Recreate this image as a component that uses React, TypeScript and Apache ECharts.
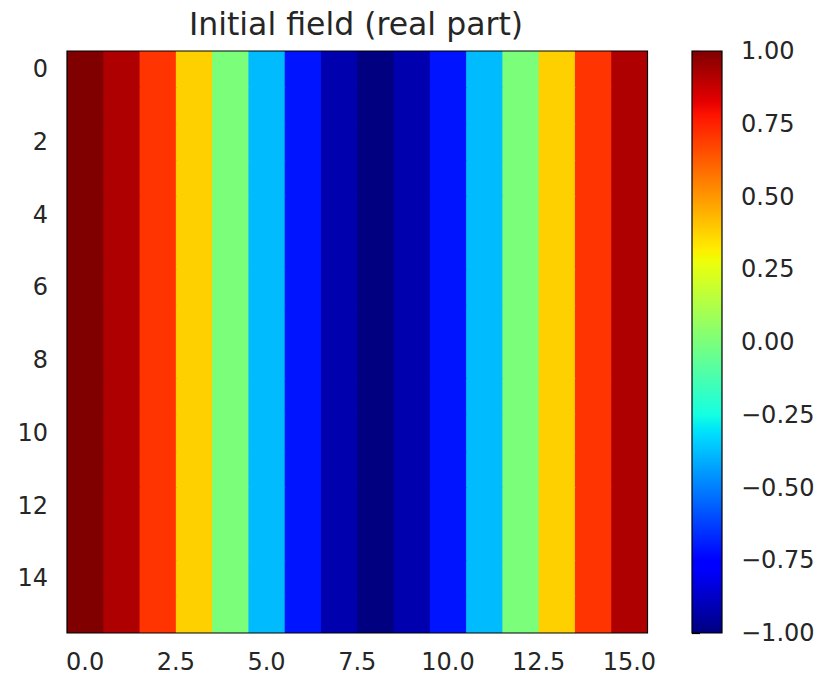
import React, { useEffect, useRef } from "react";
import * as echarts from "echarts";

// Column values of the field (real part), one per x column
const colValues: number[] = [1.0, 0.92, 0.71, 0.38, 0.0, -0.38, -0.71, -0.92, -1.0, -0.92, -0.71, -0.38, 0.0, 0.38, 0.71, 0.92];
// Row indices (every row is identical)
const rowIndices: number[] = [0, 1, 2, 3, 4, 5, 6, 7, 8, 9, 10, 11, 12, 13, 14, 15];
const xTicks: number[] = [0, 2.5, 5, 7.5, 10, 12.5, 15];
const yTicks: number[] = [0, 2, 4, 6, 8, 10, 12, 14];
const cbMin = -1;
const cbMax = 1;
const cbInterval = 0.25;
const titleText = "Initial field (real part)";

// matplotlib "jet" colormap segment data
const jetR: number[][] = [[0, 0], [0.35, 0], [0.66, 1], [0.89, 1], [1, 0.5]];
const jetG: number[][] = [[0, 0], [0.125, 0], [0.375, 1], [0.64, 1], [0.91, 0], [1, 0]];
const jetB: number[][] = [[0, 0.5], [0.11, 1], [0.34, 1], [0.65, 0], [1, 0]];

function seg(pts: number[][], t: number): number {
  for (let i = 1; i < pts.length; i++) {
    if (t <= pts[i][0]) {
      const [x0, y0] = pts[i - 1];
      const [x1, y1] = pts[i];
      return y0 + ((t - x0) / (x1 - x0)) * (y1 - y0);
    }
  }
  return pts[pts.length - 1][1];
}
function jet(t: number): string {
  const c = (v: number) => Math.round(Math.max(0, Math.min(1, v)) * 255).toString(16).padStart(2, "0");
  return "#" + c(seg(jetR, t)) + c(seg(jetG, t)) + c(seg(jetB, t));
}
const jetStops: string[] = [];
for (let i = 0; i <= 128; i++) jetStops.push(jet(i / 128));

const FONT = "DejaVu Sans";
const TXT = "#262626";

export default function App() {
  const ref = useRef<HTMLDivElement>(null);
  useEffect(() => {
    if (!ref.current) return;
    const chart = echarts.init(ref.current, undefined, { renderer: "svg" });
    const cells: number[][] = [];
    rowIndices.forEach((r) => colValues.forEach((v, c) => cells.push([c, r, v])));
    const xMin = -0.5, xMax = colValues.length - 0.5;
    const yMin = -0.5, yMax = rowIndices.length - 0.5;

    const tickLabel = { fontFamily: FONT, fontSize: 24, color: TXT };
    const option: any = {
      animation: false,
      backgroundColor: "#fff",
      title: {
        text: titleText,
        left: 351,
        top: 3,
        textAlign: "center",
        textStyle: { fontFamily: FONT, fontSize: 31.5, fontWeight: "normal", color: TXT },
      },
      grid: [
        { left: 67, top: 51, width: 580.5, height: 582 },
        { left: 692, top: 51, width: 30, height: 582 },
      ],
      xAxis: [
        {
          type: "value", gridIndex: 0, min: xMin, max: xMax,
          splitLine: { show: false },
          axisLine: { show: false },
          axisTick: { show: true, length: 8, lineStyle: { color: "#000", width: 1.2 }, customValues: xTicks },
          axisLabel: { ...tickLabel, margin: 17, customValues: xTicks, formatter: (v: number) => v.toFixed(1) },
        },
        { type: "value", gridIndex: 1, min: 0, max: 1, show: false },
      ],
      yAxis: [
        {
          type: "value", gridIndex: 0, min: yMin, max: yMax, inverse: true,
          splitLine: { show: false },
          axisLine: { show: false },
          axisTick: { show: true, length: 8, lineStyle: { color: "#000", width: 1.2 }, customValues: yTicks },
          axisLabel: { ...tickLabel, margin: 19, customValues: yTicks, formatter: (v: number) => String(v) },
        },
        {
          type: "value", gridIndex: 1, min: cbMin, max: cbMax, interval: cbInterval, position: "right",
          splitLine: { show: false },
          axisLine: { show: false },
          axisTick: { show: true, length: 8, lineStyle: { color: "#000", width: 1.2 } },
          axisLabel: {
            ...tickLabel, margin: 19,
            formatter: (v: number) => (v < 0 ? "\u2212" : "") + Math.abs(v).toFixed(2),
          },
        },
      ],
      visualMap: {
        show: false, type: "continuous", min: cbMin, max: cbMax, dimension: 2, seriesIndex: 0,
        inRange: { color: jetStops },
      },
      series: [
        {
          type: "custom", xAxisIndex: 0, yAxisIndex: 0, data: cells, encode: { x: 0, y: 1 },
          renderItem: (params: any, api: any) => {
            const x = api.value(0), y = api.value(1);
            const p0 = api.coord([x - 0.5, y - 0.5]);
            const p1 = api.coord([x + 0.5, y + 0.5]);
            const edge = api.coord([xMax, yMax]);
            const col = api.visual("color");
            const x0 = Math.min(p0[0], p1[0]);
            const y0 = Math.min(p0[1], p1[1]);
            const x1 = Math.min(Math.max(p0[0], p1[0]) + 1, edge[0]);
            const y1 = Math.min(Math.max(p0[1], p1[1]) + 1, edge[1]);
            return {
              type: "rect",
              shape: { x: x0, y: y0, width: x1 - x0, height: y1 - y0 },
              style: { fill: col },
            };
          },
        },
        {
          type: "custom", xAxisIndex: 0, yAxisIndex: 0, data: [[xMin, yMin, xMax, yMax]], z: 5, silent: true,
          renderItem: (params: any, api: any) => {
            const p0 = api.coord([api.value(0), api.value(1)]);
            const p1 = api.coord([api.value(2), api.value(3)]);
            return {
              type: "rect",
              shape: { x: Math.min(p0[0], p1[0]), y: Math.min(p0[1], p1[1]), width: Math.abs(p1[0] - p0[0]), height: Math.abs(p1[1] - p0[1]) },
              style: { fill: "none", stroke: "#000", lineWidth: 1.2 },
            };
          },
        },
        {
          type: "custom", xAxisIndex: 1, yAxisIndex: 1, data: [[0, cbMin, 1, cbMax]], z: 5, silent: true,
          renderItem: (params: any, api: any) => {
            const p0 = api.coord([api.value(0), api.value(3)]);
            const p1 = api.coord([api.value(2), api.value(1)]);
            const n = jetStops.length - 1;
            const stops = jetStops.map((c, i) => ({ offset: i / n, color: jetStops[n - i] }));
            return {
              type: "rect",
              shape: { x: p0[0], y: p0[1], width: p1[0] - p0[0], height: p1[1] - p0[1] },
              style: { fill: new echarts.graphic.LinearGradient(0, 0, 0, 1, stops), stroke: "#000", lineWidth: 1.2 },
            };
          },
        },
      ],
    };
    chart.setOption(option);
    return () => chart.dispose();
  }, []);
  return <div ref={ref} style={{ position: "fixed", left: 0, top: 0, width: 823, height: 680 }} />;
}
